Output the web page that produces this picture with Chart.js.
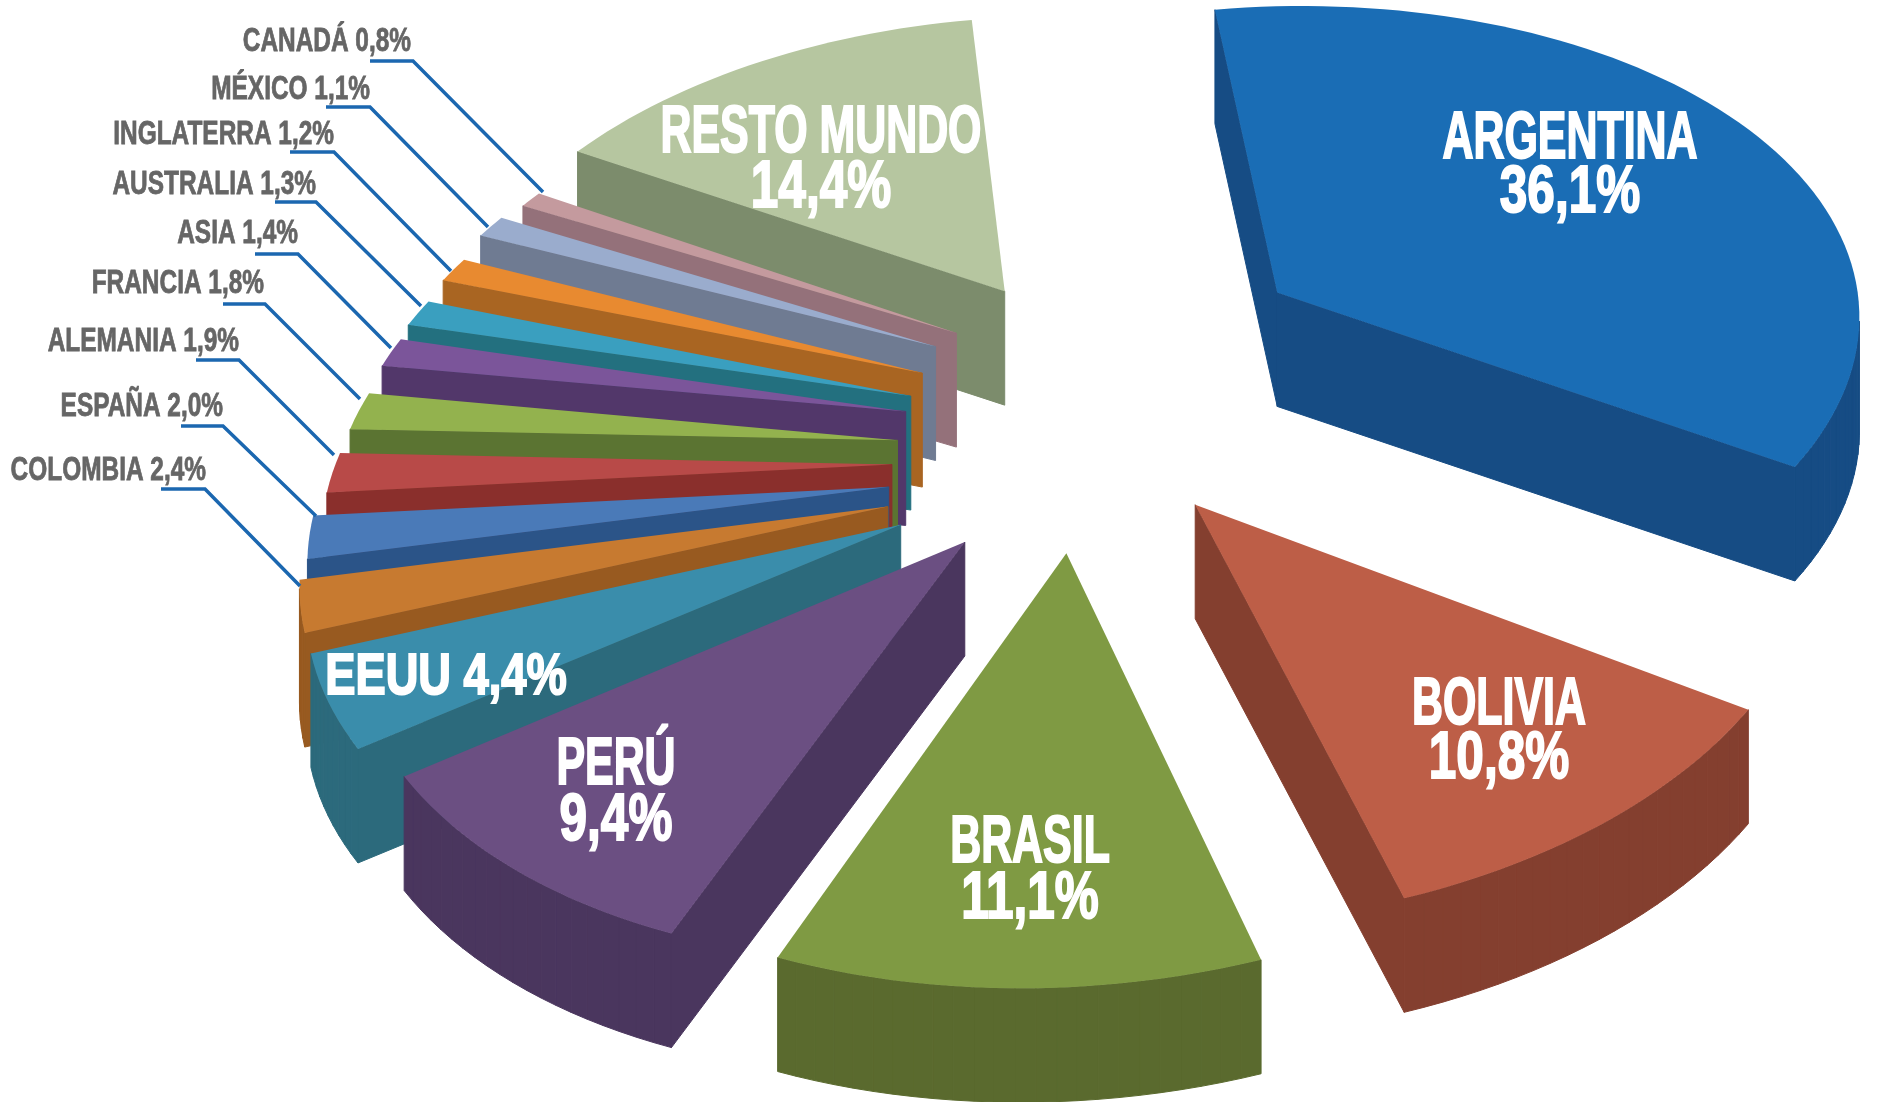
<!DOCTYPE html>
<html>
<head>
<meta charset="utf-8">
<title>Destinos</title>
<script src="https://cdn.jsdelivr.net/npm/chart.js@4"></script>
<style>
  html, body { margin: 0; padding: 0; background: #fff; }
  canvas { display: block; }
</style>
</head>
<body>
<canvas id="pieChart" width="1877" height="1102"></canvas>
<script>
const paises = ['ARGENTINA', 'BOLIVIA', 'BRASIL', 'PERÚ', 'EEUU', 'COLOMBIA', 'ESPAÑA', 'ALEMANIA', 'FRANCIA', 'ASIA', 'AUSTRALIA', 'INGLATERRA', 'MÉXICO', 'CANADÁ', 'RESTO MUNDO'];
const porcentajes = [36.1, 10.8, 11.1, 9.4, 4.4, 2.4, 2.0, 1.9, 1.8, 1.4, 1.3, 1.2, 1.1, 0.8, 14.4];

const topColors = ['#1a6db5', '#bd5e47', '#7f9a43', '#6b4f82', '#3a8dab', '#c77a30', '#4a7ab8', '#b84a48', '#93b24e', '#7b559a', '#3a9fbf', '#e88a30', '#9aaccd', '#c49a9e', '#b6c6a0'];
const wallColors = ['#164c84', '#843f2f', '#5a6a2e', '#4a365e', '#2c6a7c', '#985a20', '#2b5488', '#8a2f2c', '#5b7432', '#52376a', '#23707f', '#a96522', '#6f7b92', '#94717a', '#7c8c6c'];

// explosion of every slice (radial, plus extra pushes in the pie plane)
const explode = [258, 185, 281, 156, 171, 173, 170, 168, 166, 163, 163, 157, 149, 130, 112];
const lift = [-4, 76, 14, 152, 168, 172, 164, 148, 127, 94, 81, 51, 11, -14, -60];
const drift = [-6, 18, 22, 8, 0, 0, 0, 0, 0, 0, 0, 0, 0, 0, -5];
const reach = [1, 1, 1, 0.98, 0.95, 0.945, 0.94, 0.93, 0.93, 0.93, 0.93, 0.93, 0.93, 0.93, 0.96];

// perspective of the pie plane
const CENTER_DX = 126, CENTER_DY = -176;
const TILT = 0.57, ROLL = 0.045, VIEW_DIST = 5000, DEPTH = 114;

function project(cx, cy, px, py) {
    const s = 1 / (1 - py / VIEW_DIST);
    return { x: cx + CENTER_DX + px * s, y: cy + CENTER_DY + (py * TILT - px * ROLL) * s };
}

class Arc3D extends Chart.ArcElement {
    static id = 'arc3d';
    static defaults = Chart.ArcElement.defaults;

    draw(ctx) {
        const { x, y, startAngle, endAngle, outerRadius, options } = this;
        const mid = (startAngle + endAngle) / 2;
        const idx = topColors.indexOf(options.backgroundColor);
        const ox = Math.cos(mid) * options.offset + drift[idx];
        const oy = Math.sin(mid) * options.offset + lift[idx];
        const r = outerRadius * reach[idx];

        const pts = [project(x, y, ox, oy)];
        const steps = Math.max(4, Math.ceil((endAngle - startAngle) / 0.03));
        for (let i = 0; i <= steps; i++) {
            const a = startAngle + (endAngle - startAngle) * i / steps;
            pts.push(project(x, y, ox + Math.cos(a) * r, oy + Math.sin(a) * r));
        }

        // walls: only the edges that run right to left face the viewer
        ctx.fillStyle = ctx.strokeStyle = wallColors[idx];
        ctx.lineWidth = 1;
        pts.forEach((p, i) => {
            const q = pts[(i + 1) % pts.length];
            if (q.x >= p.x) return;
            ctx.beginPath();
            ctx.moveTo(p.x, p.y);
            ctx.lineTo(q.x, q.y);
            ctx.lineTo(q.x, q.y + DEPTH);
            ctx.lineTo(p.x, p.y + DEPTH);
            ctx.closePath();
            ctx.fill();
            ctx.stroke();
        });

        ctx.fillStyle = options.backgroundColor;
        ctx.beginPath();
        pts.forEach((p, i) => i ? ctx.lineTo(p.x, p.y) : ctx.moveTo(p.x, p.y));
        ctx.closePath();
        ctx.fill();
    }
}

class Pie3D extends Chart.PieController {
    static id = 'pie3d';
    static defaults = { dataElementType: 'arc3d' };
    static overrides = Chart.PieController.overrides;

    draw() {
        const ctx = this.chart.ctx;
        const arcs = this.getMeta().data;
        // back to front: resto mundo first, argentina last
        for (let i = arcs.length - 1; i >= 0; i--) arcs[i].draw(ctx);
    }
}
Chart.register(Arc3D, Pie3D);

const fmt = v => v.toFixed(1).replace('.', ',') + '%';

// big white labels: center x, baseline of first line, baseline of second line
const bigLabels = {
    'ARGENTINA': [1570, 158, 212],
    'RESTO MUNDO': [821, 152, 207],
    'BOLIVIA': [1499, 724, 778],
    'BRASIL': [1030, 862, 918],
    'PERÚ': [616, 784, 840]
};
// grey labels: right x, baseline, then leader line start, elbow, end
const smallLabels = {
    'CANADÁ': [411, 51, [370, 61], [413, 61], [543, 192]],
    'MÉXICO': [370, 99, [326, 107], [370, 107], [488, 227]],
    'INGLATERRA': [334, 144, [290, 152], [334, 152], [451, 271]],
    'AUSTRALIA': [316, 194, [275, 202], [316, 202], [421, 306]],
    'ASIA': [298, 243, [255, 254], [298, 254], [391, 348]],
    'FRANCIA': [264, 293, [223, 304], [265, 304], [360, 399]],
    'ALEMANIA': [239, 351, [196, 360], [239, 360], [334, 455]],
    'ESPAÑA': [223, 416, [181, 426], [223, 426], [316, 516]],
    'COLOMBIA': [206, 480, [161, 489], [205, 489], [300, 586]]
};

function squeezedText(ctx, text, x, y, size, xScale, align, color, bold) {
    ctx.save();
    ctx.translate(x, y);
    ctx.scale(xScale, 1);
    ctx.font = 'bold ' + size + 'px "Liberation Sans"';
    ctx.textAlign = align;
    ctx.textBaseline = 'alphabetic';
    ctx.fillStyle = color;
    ctx.fillText(text, 0, 0);
    ctx.strokeStyle = color;
    ctx.lineWidth = bold;
    ctx.strokeText(text, 0, 0);
    ctx.restore();
}

const labelsPlugin = {
    id: 'labels',
    afterDraw(chart) {
        const ctx = chart.ctx;
        paises.forEach((pais, i) => {
            const txt = fmt(porcentajes[i]);
            if (bigLabels[pais]) {
                const [x, y1, y2] = bigLabels[pais];
                squeezedText(ctx, pais, x, y1, 66, 0.65, 'center', '#ffffff', 2);
                squeezedText(ctx, txt, x, y2, 66, 0.75, 'center', '#ffffff', 2);
            } else if (smallLabels[pais]) {
                const [x, y, a, b, c] = smallLabels[pais];
                squeezedText(ctx, pais + ' ' + txt, x, y, 33, 0.74, 'right', '#666666', 0.8);
                ctx.strokeStyle = '#1b67b0';
                ctx.lineWidth = 3.5;
                ctx.beginPath();
                ctx.moveTo(a[0], a[1]);
                ctx.lineTo(b[0], b[1]);
                ctx.lineTo(c[0], c[1]);
                ctx.stroke();
            } else {
                squeezedText(ctx, pais + ' ' + txt, 446, 694, 58, 0.78, 'center', '#ffffff', 2);
            }
        });
    }
};

new Chart(document.getElementById('pieChart'), {
    type: 'pie3d',
    data: {
        labels: paises,
        datasets: [{
            data: porcentajes,
            backgroundColor: topColors,
            borderWidth: 0,
            offset: explode
        }]
    },
    options: {
        responsive: false,
        animation: false,
        rotation: -4.5,
        radius: 590,
        plugins: { legend: { display: false }, tooltip: { enabled: false } }
    },
    plugins: [labelsPlugin]
});
</script>
</body>
</html>
